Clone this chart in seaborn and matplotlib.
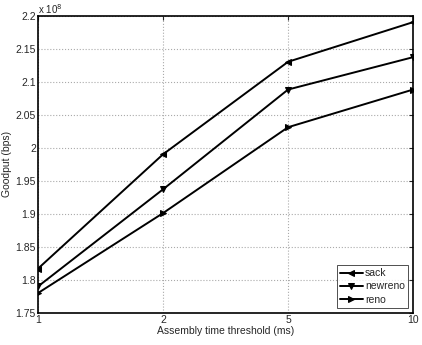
import pandas as pd
import matplotlib.pyplot as plt
import seaborn as sns
from matplotlib.ticker import FuncFormatter

thresholds = ['1', '2', '5', '10']
sack = [1.817e8, 1.990e8, 2.130e8, 2.190e8]
newreno = [1.790e8, 1.937e8, 2.088e8, 2.137e8]
reno = [1.780e8, 1.901e8, 2.031e8, 2.088e8]

df = pd.DataFrame({
    'threshold': thresholds * 3,
    'goodput': sack + newreno + reno,
    'variant': ['sack'] * 4 + ['newreno'] * 4 + ['reno'] * 4,
})

sns.set_style('white')
plt.rcParams['font.family'] = ['Liberation Sans', 'DejaVu Sans']
plt.rcParams['font.size'] = 7.5

fig = plt.figure(figsize=(4.22, 3.45), dpi=100)
ax = fig.add_axes([0.09, 0.093, 0.889, 0.862])

sns.lineplot(
    data=df, x='threshold', y='goodput', hue='variant', style='variant',
    palette=['black'] * 3, markers=['<', 'v', '>'], dashes=False,
    markersize=5, linewidth=1.4, markeredgecolor='black', ax=ax,
)

ax.set_xlim(0, 3)
ax.set_ylim(1.75e8, 2.2e8)
ax.set_yticks([1.75e8 + 0.05e8 * i for i in range(10)])
ax.yaxis.set_major_formatter(FuncFormatter(lambda v, p: '%g' % round(v / 1e8, 2)))
ax.text(0.0, 1.0, r'x 10$^8$', transform=ax.transAxes, fontsize=7, va='bottom', ha='left')

ax.grid(True, color='#aaaaaa', linestyle=':', linewidth=0.8)
for s in ax.spines.values():
    s.set_color('black')
    s.set_linewidth(1.2)
ax.tick_params(direction='in', top=True, right=True, length=3, labelsize=7.5, pad=1.5)

ax.set_xlabel('Assembly time threshold (ms)', fontsize=7.5, labelpad=1)
ax.set_ylabel('Goodput (bps)', fontsize=7.5)
ax.yaxis.set_label_coords(-0.068, 0.5)

leg = ax.legend(loc='lower right', fontsize=7.5, frameon=True, fancybox=False,
                edgecolor='black', handlelength=2.2, borderpad=0.3, labelspacing=0.3,
                handletextpad=0.2)
leg.get_frame().set_linewidth(0.6)

fig.savefig('out.png', dpi=100)
